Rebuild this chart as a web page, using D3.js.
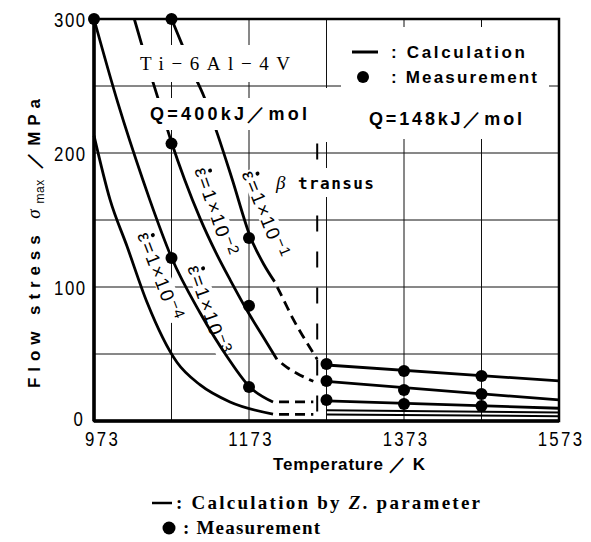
<!DOCTYPE html>
<html><head><meta charset="utf-8">
<script src="https://cdn.jsdelivr.net/npm/d3@7"></script>
<style>
html,body{margin:0;padding:0;background:#fff;}
svg{display:block;}
</style></head><body>
<svg id="chart" width="591" height="542"></svg>
<script>
// Axis ticks and grid
const xTicks = [973, 1173, 1373, 1573];
const yTicks = [0, 100, 200, 300];
const xGrid = [1073, 1173, 1273, 1373, 1473];
const yGrid = [50, 100, 150, 200, 250];
const transusT = 1261;
const transusTop = 207;

// Calculated flow stress (Q = 400 kJ/mol), alpha+beta region: solid, extension to transus: dashed
const rate1Solid = [[1073,300],[1088,279],[1101,260],[1115,242],[1133,213],[1151,181],[1175,137],[1192,117],[1206,104]];
const rate1Dash  = [[1206,104],[1218,90],[1230,76],[1245,61],[1261,46]];
const rate2Solid = [[1025,300],[1040,270],[1056,240],[1073,208],[1090,180],[1110,151],[1130,126],[1149,105],[1173,80],[1190,64],[1209,46]];
const rate2Dash  = [[1209,46],[1222,40],[1235,35.5],[1256,29.6]];
const rate3Solid = [[973,300],[1004,237],[1036,180],[1045,165],[1073,122],[1110,80.6],[1145,47.8],[1174,25.4],[1204,14.2]];
const rate3Dash  = [[1204,14.2],[1230,14.2],[1256,14.2]];
const rate4Solid = [[973,213],[993.6,165.4],[1015.6,130.4],[1041.4,88.6],[1080,43.8],[1110,26.9],[1148.5,14.2],[1204,5.2]];
const rate4Dash  = [[1204,5],[1230,5],[1256,5]];

// Calculated flow stress (Q = 148 kJ/mol), beta region
const beta1 = [[1273,41.8],[1573,29.9]];
const beta2 = [[1273,29.5],[1573,15.7]];
const beta3 = [[1273,15.0],[1573,9.5]];
const beta4 = [[1273,8.0],[1573,6.3]];
const beta5 = [[1273,4.8],[1573,3.6]];

// Measured peak flow stress
const meas1 = [[1073,300],[1173,136.5],[1273,42.5],[1373,37.3],[1473,33.6]];
const meas2 = [[1073,207],[1173,86],[1273,29.9],[1373,23.1],[1473,20.1]];
const meas3 = [[973,300],[1073,121.6],[1173,25.4],[1273,15.7],[1373,12.7],[1473,11.2]];

// Strain-rate labels: exponent, centre (T, sigma), angle
const rateExps = ["1", "2", "3", "4"];
const rateLabelPos = [[1194,154],[1130,156],[1121,83],[1058,108]];
const rateLabelAngle = [68, 71, 71, 69];

const svg = d3.select("#chart");
const x = d3.scaleLinear().domain([973, 1573]).range([94, 559]);
const y = d3.scaleLinear().domain([0, 300]).range([421, 19]);

const gGrid = svg.append("g");
const gRateLabels = svg.append("g");
const gCurves = svg.append("g");
const gBoxes = svg.append("g");
const gFrame = svg.append("g");
const gDots = svg.append("g");
const gAxes = svg.append("g");

// grid
gGrid.selectAll("line.v").data(xGrid).join("line")
  .attr("x1", d => x(d)).attr("x2", d => x(d))
  .attr("y1", y(300)).attr("y2", y(0))
  .attr("stroke", "#111").attr("stroke-width", 1);
gGrid.selectAll("line.h").data(yGrid).join("line")
  .attr("y1", d => y(d)).attr("y2", d => y(d))
  .attr("x1", x(973)).attr("x2", x(1573))
  .attr("stroke", "#111").attr("stroke-width", 1);

const line = d3.line().x(d => x(d[0])).y(d => y(d[1])).curve(d3.curveMonotoneX);

function bg(g, pad) {
  const t = g.select("text").node();
  const b = t.getBBox();
  g.insert("rect", "text")
    .attr("x", b.x - pad[0]).attr("y", b.y - pad[1])
    .attr("width", b.width + 2 * pad[0]).attr("height", b.height + 2 * pad[1])
    .attr("fill", "#fff");
}

// strain-rate labels (white ground breaks the grid lines)
rateExps.forEach((e, i) => {
  const p = rateLabelPos[i];
  const fs = 19;
  const g = gRateLabels.append("g")
    .attr("transform", `translate(${x(p[0])},${y(p[1])}) rotate(${rateLabelAngle[i]})`);
  const t = g.append("text")
    .attr("text-anchor", "middle").attr("dy", "0.35em")
    .attr("font-family", "'Liberation Sans', sans-serif")
    .attr("font-size", fs).attr("letter-spacing", 2);
  t.append("tspan").text("\u03B5=1\u00D710");
  t.append("tspan").attr("dy", -6).attr("font-size", 15).attr("letter-spacing", 1).text("\u2212" + e);
  bg(g, [1, -3]);
  // rate dot above epsilon
  const s = t.node().getStartPositionOfChar(0);
  const ext = t.node().getExtentOfChar(0);
  g.append("circle")
    .attr("cx", s.x + ext.width * 0.55).attr("cy", s.y - fs * 0.78)
    .attr("r", 2).attr("fill", "#000");
});

// calculated curves
const solidSets = [rate1Solid, rate2Solid, rate3Solid, rate4Solid, beta1, beta2, beta3];
const thinSets = [beta4, beta5];
const dashSets = [rate1Dash, rate2Dash, rate3Dash, rate4Dash];
gCurves.selectAll("path.solid").data(solidSets).join("path")
  .attr("d", line).attr("fill", "none").attr("stroke", "#000").attr("stroke-width", 2.8);
gCurves.selectAll("path.thin").data(thinSets).join("path")
  .attr("d", line).attr("fill", "none").attr("stroke", "#000").attr("stroke-width", 2);
gCurves.selectAll("path.dash").data(dashSets).join("path")
  .attr("d", line).attr("fill", "none").attr("stroke", "#000").attr("stroke-width", 2.8)
  .attr("stroke-dasharray", "10,6").attr("stroke-dashoffset", 10);

// beta transus
gCurves.append("line")
  .attr("x1", x(transusT)).attr("x2", x(transusT))
  .attr("y1", y(transusTop)).attr("y2", y(0))
  .attr("stroke", "#000").attr("stroke-width", 2)
  .attr("stroke-dasharray", "16,20");

// annotation boxes
function note(txt, cx, cy, opts) {
  const g = gBoxes.append("g");
  const t = g.append("text").attr("x", cx).attr("y", cy)
    .attr("text-anchor", opts.anchor || "start")
    .attr("font-family", opts.family)
    .attr("font-size", opts.size)
    .attr("font-weight", opts.weight || "normal")
    .text(txt);
  if (opts.len) t.attr("textLength", opts.len).attr("lengthAdjust", "spacing");
  if (opts.pad) bg(g, opts.pad);
  return g;
}
note("Ti\u22126Al\u22124V", 140, 70, {family: "'Liberation Serif', serif", size: 19, len: 150, pad: [8, 8]});
note("Q=400kJ\uFF0Fmol", 150, 120, {family: "'Liberation Sans', sans-serif", size: 18, weight: "bold", len: 157, pad: [6, 6]});
const betaG = gBoxes.append("g");
const betaT = betaG.append("text").attr("x", 276).attr("y", 189)
  .attr("font-family", "'DejaVu Sans Mono', monospace").attr("font-size", 16).attr("font-weight", "bold")
  .attr("textLength", 98).attr("lengthAdjust", "spacing");
betaT.append("tspan").attr("font-family", "'Liberation Serif', serif").attr("font-style", "italic")
  .attr("font-weight", "normal").attr("font-size", 19).text("\u03B2");
betaT.append("tspan").text(" transus");
bg(betaG, [3, 4]);

// legend box in the beta region
gBoxes.append("rect").attr("x", 341).attr("y", 27).attr("width", 208).attr("height", 112).attr("fill", "#fff");
gBoxes.append("rect").attr("x", 320).attr("y", 88).attr("width", 16).attr("height", 54).attr("fill", "#fff");
note("Q=148kJ\uFF0Fmol", 369, 125, {family: "'Liberation Sans', sans-serif", size: 18, weight: "bold", len: 153});
gBoxes.append("line").attr("x1", 352).attr("x2", 378).attr("y1", 52).attr("y2", 52)
  .attr("stroke", "#000").attr("stroke-width", 3);
note(": Calculation", 391, 58, {family: "'Liberation Sans', sans-serif", size: 17, weight: "bold", len: 134});
gBoxes.append("circle").attr("cx", 363).attr("cy", 77).attr("r", 6).attr("fill", "#000");
note(": Measurement", 391, 83, {family: "'Liberation Sans', sans-serif", size: 17, weight: "bold", len: 146});

// frame
gFrame.append("rect").attr("x", x(973)).attr("y", y(300))
  .attr("width", x(1573) - x(973)).attr("height", y(0) - y(300))
  .attr("fill", "none").attr("stroke", "#000").attr("stroke-width", 2.5);
gFrame.append("line").attr("x1", x(973)).attr("x2", x(973)).attr("y1", y(300)).attr("y2", y(0))
  .attr("stroke", "#000").attr("stroke-width", 3.5);
gFrame.append("line").attr("x1", x(973)).attr("x2", x(1573)).attr("y1", y(0)).attr("y2", y(0))
  .attr("stroke", "#000").attr("stroke-width", 3.5);

// measurement dots
gDots.selectAll("circle").data([...meas1, ...meas2, ...meas3]).join("circle")
  .attr("cx", d => x(d[0])).attr("cy", d => y(d[1])).attr("r", 6).attr("fill", "#000");

// axes
const xAxis = gAxes.append("g").attr("transform", `translate(0,${y(0)})`)
  .call(d3.axisBottom(x).tickValues(xTicks).tickSize(0).tickPadding(0).tickFormat(d3.format("d")));
const yAxis = gAxes.append("g").attr("transform", `translate(${x(973)},0)`)
  .call(d3.axisLeft(y).tickValues(yTicks).tickSize(0).tickPadding(0).tickFormat(d3.format("d")));
gAxes.selectAll(".domain").remove();
xAxis.selectAll("text").attr("y", 25).attr("dy", 0).attr("dx", d => d === 973 ? 10 : 2)
  .attr("font-family", "'Liberation Sans', sans-serif").attr("font-size", 21)
  .attr("letter-spacing", 3).attr("fill", "#000").attr("transform", "scale(0.8,1)");
yAxis.selectAll("text").attr("x", d => d === 0 ? -12 : -9).attr("dy", d => d === 0 ? "0.2em" : "0.35em")
  .attr("font-family", "'Liberation Sans', sans-serif").attr("font-size", 21)
  .attr("letter-spacing", 2).attr("fill", "#000").attr("transform", "scale(0.8,1)");

// axis titles
gAxes.append("text").attr("x", 273).attr("y", 470)
  .attr("font-family", "'Liberation Sans', sans-serif").attr("font-size", 17).attr("font-weight", "bold")
  .attr("textLength", 152).attr("lengthAdjust", "spacing")
  .text("Temperature \uFF0F K");

const yt = gAxes.append("text").attr("transform", "translate(40,388) rotate(-90)")
  .attr("font-family", "'Liberation Sans', sans-serif").attr("font-size", 17).attr("font-weight", "bold");
yt.append("tspan").text("Flow stress ");
yt.append("tspan").attr("font-family", "'Liberation Serif', serif").attr("font-style", "italic").attr("font-weight", "normal").attr("font-size", 19).text("\u03C3");
yt.append("tspan").attr("dy", 4).attr("font-size", 12).attr("font-weight", "normal").attr("letter-spacing", 0.5).text("max");
yt.append("tspan").attr("dy", -4).text(" \uFF0FMPa");
{
  // spread the title over the full stress range
  const len0 = yt.node().getComputedTextLength();
  const n = yt.text().length - 3;
  yt.attr("letter-spacing", (295 - len0) / n);
}

// bottom legend
gAxes.append("line").attr("x1", 152).attr("x2", 172).attr("y1", 503).attr("y2", 503)
  .attr("stroke", "#000").attr("stroke-width", 2.5);
const lg1 = gAxes.append("text").attr("x", 176).attr("y", 509)
  .attr("font-family", "'Liberation Serif', serif").attr("font-size", 19).attr("font-weight", "bold")
  .attr("textLength", 304).attr("lengthAdjust", "spacing");
lg1.append("tspan").text(": Calculation by ");
lg1.append("tspan").attr("font-style", "italic").text("Z");
lg1.append("tspan").text(". parameter");
gAxes.append("circle").attr("cx", 169).attr("cy", 528).attr("r", 6.5).attr("fill", "#000");
gAxes.append("text").attr("x", 183).attr("y", 534)
  .attr("font-family", "'Liberation Serif', serif").attr("font-size", 19).attr("font-weight", "bold")
  .attr("textLength", 137).attr("lengthAdjust", "spacing")
  .text(": Measurement");
</script>
</body></html>
